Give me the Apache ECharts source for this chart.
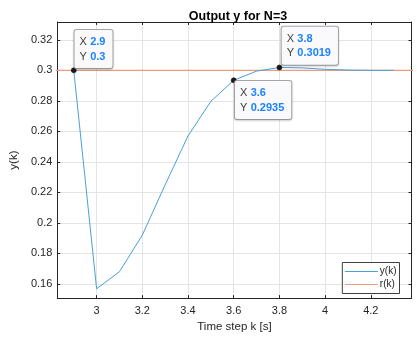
<!DOCTYPE html>
<html>
<head>
<meta charset="utf-8">
<script src="https://cdn.jsdelivr.net/npm/echarts@6/dist/echarts.min.js"></script>
<style>html,body{margin:0;padding:0;background:#fff}#c{width:417px;height:338px}</style>
</head>
<body>
<div id="c"></div>
<script>
// ---- data ----
const timeSteps = [2.9, 3.0, 3.1, 3.2, 3.3, 3.4, 3.5, 3.6, 3.7, 3.8, 3.9, 4.0, 4.1, 4.2, 4.3];
const yValues   = [0.3, 0.1568, 0.168, 0.192, 0.225, 0.257, 0.2797, 0.2935, 0.2995, 0.3019, 0.3016, 0.3007, 0.3002, 0.3, 0.3];
const refTimes  = [2.8, 4.4];
const refValues = [0.3, 0.3];
const xTicks = [3, 3.2, 3.4, 3.6, 3.8, 4, 4.2];
const yTicks = [0.16, 0.18, 0.2, 0.22, 0.24, 0.26, 0.28, 0.3, 0.32];
const tipPoints = [2.9, 3.6, 3.8];
const xRange = [2.828, 4.378];
const yRange = [0.1507, 0.3317];

const FONT = 'Liberation Sans, Arial, Helvetica, sans-serif';
const axisCol = '#262626';
const yColor = '#4aa0d8';
const rColor = '#eb9a7c';
const tipOffsets = {2.9: [3.5, -37.5], 3.6: [4, 3.5], 3.8: [5, -38]};

const yLine = timeSteps.map((t, i) => [t, yValues[i]]);
const rLine = refTimes.map((t, i) => [t, refValues[i]]);

const tips = tipPoints.map(t => {
  const i = timeSteps.indexOf(t);
  return {
    coord: [t, yValues[i]],
    label: {position: tipOffsets[t]}
  };
});

function fmt(v) { return String(Number(v.toPrecision(4))); }

function mkAxis(pos, isX, show) {
  const ticks = isX ? xTicks : yTicks;
  const rng = isX ? xRange : yRange;
  return {
    type: 'value', position: pos, min: rng[0], max: rng[1],
    axisLine: {show: true, onZero: false, lineStyle: {color: axisCol, width: 1}},
    axisTick: {show: true, inside: true, length: 3, customValues: ticks, lineStyle: {color: axisCol}},
    axisLabel: {show: show, customValues: ticks, color: '#262626', fontSize: 11, fontFamily: FONT,
      margin: isX ? 7 : 5, formatter: v => String(Number(v.toFixed(2)))},
    splitLine: {show: show, lineStyle: {color: '#e4e4e4', width: 1}},
    name: show ? (isX ? 'Time step k [s]' : 'y(k)') : '',
    nameLocation: 'middle', nameGap: isX ? 22 : 30,
    nameTextStyle: {color: '#262626', fontSize: 11.5, fontFamily: FONT}
  };
}

const chart = echarts.init(document.getElementById('c'), null, {renderer: 'canvas'});
chart.setOption({
  animation: false,
  backgroundColor: '#fff',
  title: {text: 'Output y for N=3', left: 233, top: 5, textAlign: 'center',
    textStyle: {fontSize: 12.5, fontWeight: 'bold', color: '#000', fontFamily: FONT}},
  grid: {left: 57, right: 5.5, top: 22, bottom: 36.3, containLabel: false},
  xAxis: [mkAxis('bottom', true, true), mkAxis('top', true, false)],
  yAxis: [mkAxis('left', false, true), mkAxis('right', false, false)],
  legend: {
    right: 17.5, bottom: 44.5, orient: 'vertical',
    backgroundColor: '#fff', borderColor: '#404040', borderWidth: 1,
    padding: [4, 3, 4, 2], itemGap: 3, itemWidth: 33, itemHeight: 10,
    itemStyle: {color: 'rgba(0,0,0,0)', borderColor: 'rgba(0,0,0,0)', borderWidth: 0},
    lineStyle: {width: 1},
    textStyle: {fontSize: 10, color: '#262626', fontFamily: FONT, padding: [0, 0, 0, -3]},
    data: ['y(k)', 'r(k)']
  },
  series: [
    {
      name: 'y(k)', type: 'line', data: yLine, symbol: 'none', clip: true,
      lineStyle: {color: yColor, width: 1}, itemStyle: {color: yColor},
      z: 3,
      markPoint: {
        symbol: 'circle', symbolSize: 5,
        itemStyle: {color: '#1a1a1a', borderColor: '#000', borderWidth: 0.5, opacity: 1},
        label: {
          show: true, align: 'left', verticalAlign: 'top',
          backgroundColor: '#fafafc', borderColor: '#a8a8a8', borderWidth: 1, borderRadius: 2,
          shadowColor: 'rgba(0,0,0,0.15)', shadowBlur: 2, shadowOffsetY: 1,
          padding: [5, 7, 4, 5], lineHeight: 14.5,
          formatter: p => '{k|X} {v|' + fmt(p.data.coord[0]) + '}\n{k|Y} {v|' + fmt(p.data.coord[1]) + '}',
          rich: {
            k: {fontSize: 11, color: '#404040', fontFamily: FONT, lineHeight: 14.5},
            v: {fontSize: 11, color: '#1a82ff', fontWeight: 'bold', fontFamily: FONT, lineHeight: 14.5}
          }
        },
        data: tips
      }
    },
    {
      name: 'r(k)', type: 'line', data: rLine, symbol: 'none', clip: true,
      lineStyle: {color: rColor, width: 1.3}, itemStyle: {color: rColor}, z: 2
    }
  ]
});
</script>
</body>
</html>
